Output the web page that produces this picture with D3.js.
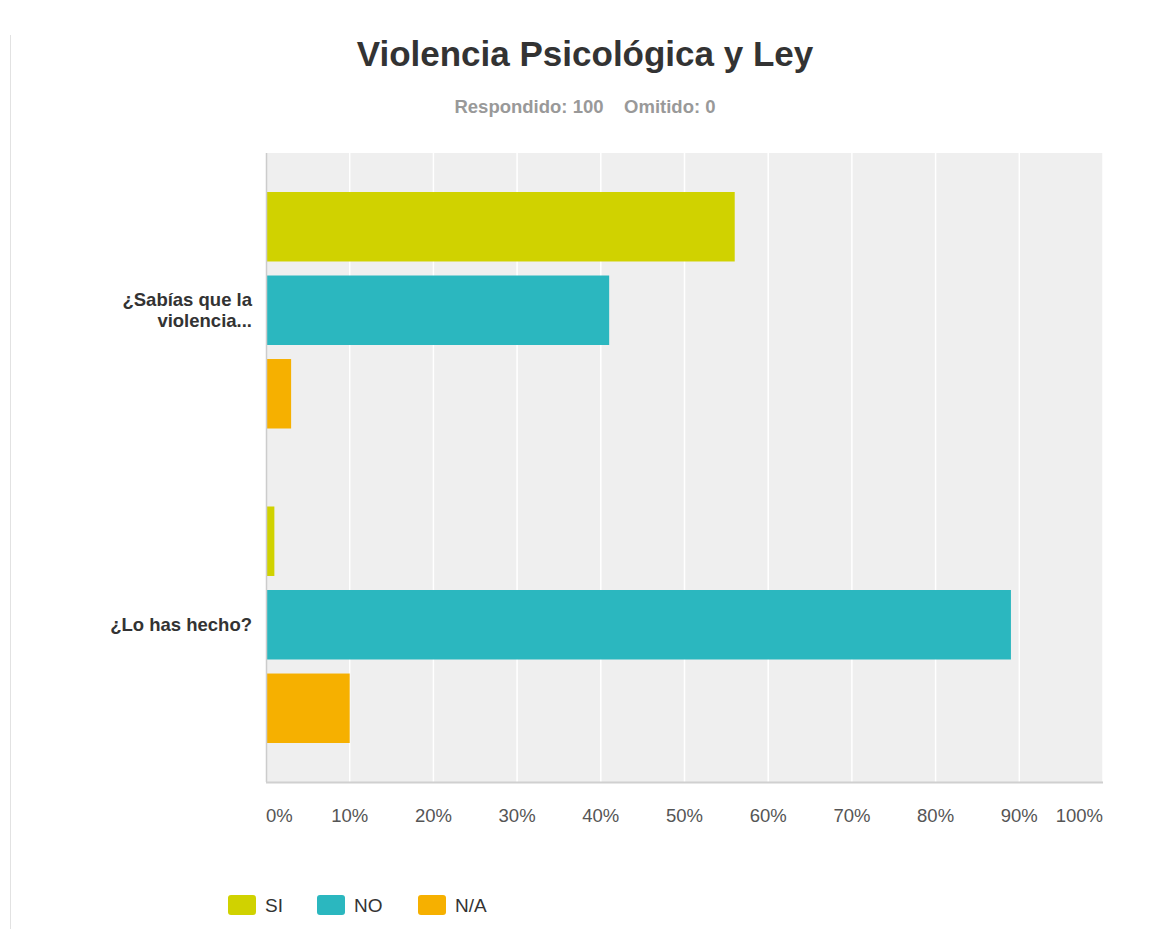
<!DOCTYPE html>
<html>
<head>
<meta charset="utf-8">
<script src="https://cdn.jsdelivr.net/npm/d3@7"></script>
<style>
  body { margin: 0; background: #fff; }
  text { font-family: "Liberation Sans", Arial, Helvetica, sans-serif; }
</style>
</head>
<body>
<script>
// data
var questions = ["¿Sabías que la violencia...", "¿Lo has hecho?"];
var questionLines = [["¿Sabías que la", "violencia..."], ["¿Lo has hecho?"]];
var answers = ["SI", "NO", "N/A"];
var colors = ["#d0d200", "#2bb7bf", "#f6b000"];
var valuesSI = [56, 1];
var valuesNO = [41, 89];
var valuesNA = [3, 10];
var tickValues = [0, 10, 20, 30, 40, 50, 60, 70, 80, 90, 100];

var W = 1149, H = 929;
var plotLeft = 266, plotRight = 1103, plotTop = 153, plotBottom = 782;

var svg = d3.select("body").append("svg")
  .attr("width", W)
  .attr("height", H);

// thin frame line on the left
svg.append("line")
  .attr("x1", 10.5).attr("x2", 10.5)
  .attr("y1", 35).attr("y2", 929)
  .attr("stroke", "#e2e2e2").attr("stroke-width", 1);

svg.append("text")
  .attr("x", 585).attr("y", 66)
  .attr("text-anchor", "middle")
  .attr("font-size", 35).attr("font-weight", "bold")
  .attr("fill", "#333")
  .text("Violencia Psicológica y Ley");

svg.append("text")
  .attr("x", 585).attr("y", 113)
  .attr("text-anchor", "middle")
  .attr("font-size", 18.5).attr("font-weight", "bold")
  .attr("fill", "#999")
  .attr("xml:space", "preserve")
  .text("Respondido: 100    Omitido: 0");

var x = d3.scaleLinear().domain([0, 100]).range([plotLeft, plotRight]);
var y0 = d3.scaleBand().domain(questions).range([plotTop, plotBottom]).paddingInner(0).paddingOuter(0);
var y1 = d3.scaleBand().domain(answers).range([0, y0.bandwidth()]).paddingInner(0.168).paddingOuter(0.467);

// plot background
svg.append("rect")
  .attr("x", plotLeft).attr("y", plotTop)
  .attr("width", plotRight - plotLeft).attr("height", plotBottom - plotTop)
  .attr("fill", "#efefef");

// grid lines
svg.append("g").selectAll("line")
  .data(tickValues.slice(1))
  .enter().append("line")
  .attr("x1", function(d){ return x(d); })
  .attr("x2", function(d){ return x(d); })
  .attr("y1", plotTop).attr("y2", plotBottom)
  .attr("stroke", "#fff").attr("stroke-width", 1.5);

// bars
var series = [valuesSI, valuesNO, valuesNA];
var rows = [];
questions.forEach(function(q, qi){
  answers.forEach(function(a, ai){
    rows.push({q: q, a: a, v: series[ai][qi], c: colors[ai]});
  });
});

svg.append("g").selectAll("rect")
  .data(rows)
  .enter().append("rect")
  .attr("x", x(0) + 1)
  .attr("y", function(d){ return y0(d.q) + y1(d.a); })
  .attr("width", function(d){ return x(d.v) - x(0) - 1; })
  .attr("height", y1.bandwidth())
  .attr("fill", function(d){ return d.c; });

// axis lines
svg.append("line")
  .attr("x1", plotLeft + 0.5).attr("x2", plotLeft + 0.5)
  .attr("y1", plotTop).attr("y2", plotBottom)
  .attr("stroke", "#ccc").attr("stroke-width", 1.5);
svg.append("line")
  .attr("x1", plotLeft).attr("x2", plotRight)
  .attr("y1", plotBottom + 0.5).attr("y2", plotBottom + 0.5)
  .attr("stroke", "#d0d0d0").attr("stroke-width", 2);

// x tick labels
svg.append("g").selectAll("text")
  .data(tickValues)
  .enter().append("text")
  .attr("x", function(d){ return x(d); })
  .attr("y", 822)
  .attr("text-anchor", function(d){ return d === 0 ? "start" : (d === 100 ? "end" : "middle"); })
  .attr("font-size", 18.5)
  .attr("fill", "#555")
  .text(function(d){ return d + "%"; });

// category labels
questions.forEach(function(q, qi){
  var lines = questionLines[qi];
  var cy = y0(q) + y0.bandwidth() / 2;
  var lh = 21;
  var t = svg.append("text")
    .attr("text-anchor", "end")
    .attr("font-size", 18.5).attr("font-weight", "bold")
    .attr("fill", "#333");
  lines.forEach(function(l, li){
    t.append("tspan")
      .attr("x", 252)
      .attr("y", cy + 6 + (li - (lines.length - 1) / 2) * lh)
      .text(l);
  });
});

// legend
var legX = [228, 317, 418];
var leg = svg.append("g").selectAll("g")
  .data(answers)
  .enter().append("g")
  .attr("transform", function(d, i){ return "translate(" + legX[i] + ",895)"; });
leg.append("rect")
  .attr("width", 28).attr("height", 20)
  .attr("rx", 3)
  .attr("fill", function(d, i){ return colors[i]; });
leg.append("text")
  .attr("x", 37).attr("y", 17)
  .attr("font-size", 19)
  .attr("fill", "#333")
  .text(function(d){ return d; });
</script>
</body>
</html>
